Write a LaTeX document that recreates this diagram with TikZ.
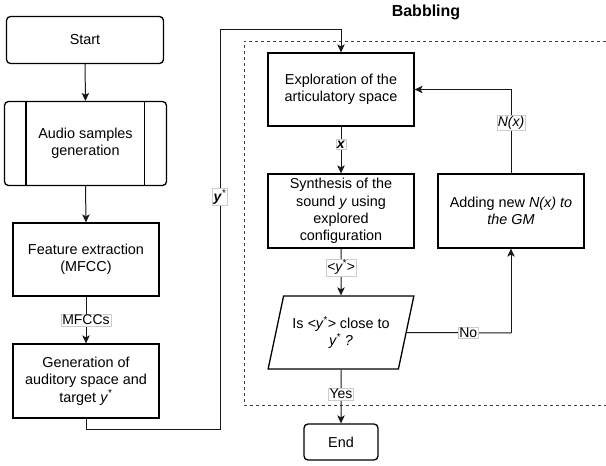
\documentclass[tikz,border=0pt]{standalone}
\usepackage{fontspec}
\setmainfont{Liberation Sans}
\usetikzlibrary{shapes.geometric,arrows.meta}

\begin{document}
\begin{tikzpicture}[x=1pt,y=-1pt,
  font=\fontsize{14.4}{17.3}\selectfont,
  box/.style={draw=black, line width=1.3pt, align=center, inner sep=2pt,
    minimum width=146pt, minimum height=73pt},
  term/.style={box, rounded corners=4pt},
  arr/.style={draw=black!90, line width=1pt,
    -{Stealth[length=8pt,width=7.5pt,inset=2pt]}},
  link/.style={draw=black!90, line width=1pt},
  lab/.style={fill=white, draw=black!20, line width=0.4pt, inner sep=1pt,
    font=\fontsize{14}{16}\selectfont},
  frame/.style={draw=black!75, line width=1pt, dash pattern=on 3pt off 3pt}]

\useasboundingbox (0,0) rectangle (606,466);

% dashed frame of the babbling loop
\draw[frame] (606,41) -- (244,41) -- (244,405) -- (606,405);
\node[font=\bfseries\fontsize{16}{18}\selectfont] (title) at (426,12) {Babbling};

% left column
\node[term, minimum width=157pt, minimum height=47pt] (start) at (85,40) {Start};
\node[term, minimum width=162pt, minimum height=84pt] (audio) at (85.5,143.5)
  {Audio samples\\generation};
\draw[draw=black, line width=1.3pt]
  ([xshift=22pt]audio.north west) -- ([xshift=22pt]audio.south west)
  ([xshift=-23pt]audio.north east) -- ([xshift=-23pt]audio.south east);
\node[box] (feat) at (86,259.5) {Feature extraction\\(MFCC)};
\node[box, minimum height=74pt] (gen) at (86,381)
  {Generation of\\auditory space and\\target \textit{y}\textsuperscript{*}};

% babbling loop
\node[box] (explore) at (341,89.5) {Exploration of the\\articulatory space};
\node[box, minimum height=74pt] (synth) at (341,211)
  {Synthesis of the\\sound \textit{y} using\\explored\\configuration};
\node[box, minimum height=74pt] (adding) at (511,211)
  {Adding new \textit{N(x) to}\\\textit{the GM}};
\node[box, trapezium, trapezium left angle=68, trapezium right angle=112,
  trapezium stretches=true, inner sep=0pt] (dec) at (341,332.5)
  {Is \textit{<y\textsuperscript{*}>} close to\\\textit{y\textsuperscript{*} ?}};
\node[term, minimum width=74pt, minimum height=36pt] (end) at (341,442) {End};

% connectors
\coordinate (c1) at (220,429);
\coordinate (c2) at (220,29);
\coordinate (c3) at (511,333);

\draw[arr] (start.south) -- (audio.north);
\draw[arr] (audio.south) -- (feat.north);
\draw[arr] (feat.south) -- node[lab, pos=0.5] {MFCCs} (gen.north);
\draw[arr] (gen.south) |- (c1) -- node[lab, pos=0.58]
  {\textbf{\textit{y}}\textsuperscript{*}} (c2) -| (explore.north);
\draw[arr] (explore.south) -- node[lab, pos=0.38] {\textbf{\textit{x}}} (synth.north);
\draw[arr] (synth.south) -- node[lab, pos=0.4]
  {\textit{<y\textsuperscript{*}>}} (dec.north);
\draw[arr] (dec.south) -- node[lab, pos=0.45] {Yes} (end.north);
\draw[link] (dec.east) -- node[lab, pos=0.59] {No} (c3);
\draw[arr] (c3) -- (adding.south);
\draw[arr] (adding.north) |- node[lab, pos=0.3] {\textit{N(x)}} (explore.east);

\end{tikzpicture}
\end{document}
